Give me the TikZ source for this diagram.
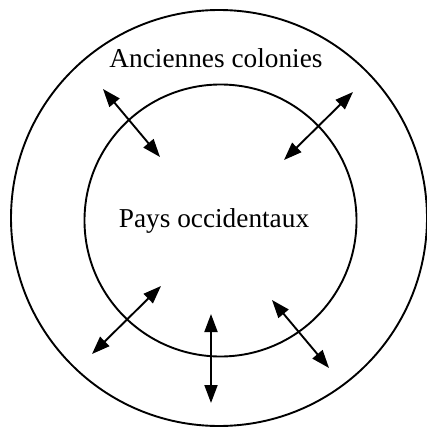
\documentclass[tikz,border=0pt]{standalone}
\usepackage{fontspec}
\setmainfont{Liberation Serif}
\usetikzlibrary{arrows.meta}
\begin{document}
\begin{tikzpicture}[x=1pt,y=-1pt,
  ring/.style={draw=black,line width=1.9pt},
  dbl/.style={line width=1.9pt,{Triangle[length=18pt,width=13pt]}-{Triangle[length=18pt,width=13pt]}},
  lbl/.style={anchor=base,inner sep=0pt,font=\fontsize{27.3}{30}\selectfont}]
\useasboundingbox (0,0) rectangle (426,428);
\draw[ring] (219,218) circle[radius=208];
\draw[ring] (220.5,220.5) circle[radius=136];
\node[lbl] (anc) at (216,67) {Anciennes colonies};
\node[lbl] (pays) at (214,227) {Pays occidentaux};
\coordinate (a1) at (103,89);  \coordinate (b1) at (160,157);
\coordinate (a2) at (353,92);  \coordinate (b2) at (284,160);
\coordinate (a3) at (161,286); \coordinate (b3) at (92,354);
\coordinate (a4) at (211,314); \coordinate (b4) at (211,403);
\coordinate (a5) at (272,300); \coordinate (b5) at (329,368);
\draw[dbl] (a1) -- (b1);
\draw[dbl] (a2) -- (b2);
\draw[dbl] (a3) -- (b3);
\draw[dbl] (a4) -- (b4);
\draw[dbl] (a5) -- (b5);
\end{tikzpicture}
\end{document}
